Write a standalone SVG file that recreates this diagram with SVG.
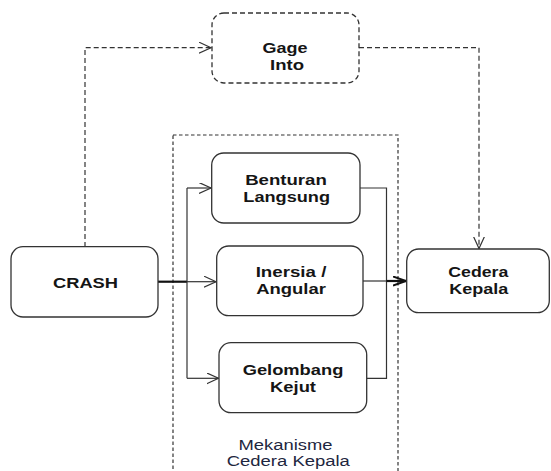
<svg xmlns="http://www.w3.org/2000/svg" width="551" height="471" viewBox="0 0 551 471">
<style>
.node{fill:#fff;stroke:#333;stroke-width:1.3}
.dnode{fill:#fff;stroke:#333;stroke-width:1.3;stroke-dasharray:5 3}
.t{font-family:"Liberation Sans",Arial,sans-serif;font-weight:bold;font-size:15px;fill:#151515;text-anchor:middle}
.lbl{font-family:"Liberation Sans",Arial,sans-serif;font-size:14px;fill:#1e2640;text-anchor:middle}
.c{fill:none;stroke:#333;stroke-width:1.2}
.cd{fill:none;stroke:#333;stroke-width:1.2;stroke-dasharray:5 3}
.thick{fill:none;stroke:#111;stroke-width:2.2}
.frame{fill:none;stroke:#333;stroke-width:1.2;stroke-dasharray:3.5 2.5}
</style>
<defs>
<marker id="open" markerWidth="14" markerHeight="12" refX="12" refY="5.5" orient="auto" markerUnits="userSpaceOnUse">
<path d="M0,0 L12,5.5 L0,11" fill="none" stroke="#333" stroke-width="1.2"/>
</marker>
<marker id="bold" markerWidth="16" markerHeight="12" refX="13" refY="5" orient="auto" markerUnits="userSpaceOnUse">
<path d="M0,0.5 L13,5 L0,9.5" fill="none" stroke="#111" stroke-width="2"/>
</marker>
</defs>
<rect x="173" y="135" width="225" height="350" class="frame"/>
<text class="lbl" x="285.5" y="450" textLength="94" lengthAdjust="spacingAndGlyphs">Mekanisme</text>
<text class="lbl" x="288.3" y="466" textLength="123" lengthAdjust="spacingAndGlyphs">Cedera Kepala</text>
<g id="connectors">
<path class="cd" d="M85,247 L85,47.7 L211,47.7" marker-end="url(#open)"/>
<path class="cd" d="M359,47.7 L479,47.7 L479,248.5" marker-end="url(#open)"/>
<path class="thick" d="M158,281.7 L187,281.7"/>
<path class="c" d="M187,281.7 L216,281.7" marker-end="url(#open)"/>
<path class="c" d="M187,188 L187,378.3"/>
<path class="c" d="M187,188 L211,188" marker-end="url(#open)"/>
<path class="c" d="M187,378.3 L218.5,378.3" marker-end="url(#open)"/>
<path class="c" d="M360,188 L386.5,188 L386.5,378.3 L366.7,378.3"/>
<path class="c" d="M363,281 L386.5,281"/>
<path class="thick" d="M386.5,281 L406,281" marker-end="url(#bold)"/>
</g>
<g id="gage">
<rect x="212" y="13" width="147" height="70" rx="12" class="dnode"/>
<text class="t" x="285" y="53.2" textLength="45" lengthAdjust="spacingAndGlyphs">Gage</text>
<text class="t" x="287" y="70.2" textLength="34" lengthAdjust="spacingAndGlyphs">Into</text>
</g>
<g id="crash">
<rect x="11" y="246.7" width="147" height="70.3" rx="12" class="node"/>
<text class="t" x="85.5" y="287.5" textLength="65" lengthAdjust="spacingAndGlyphs">CRASH</text>
</g>
<g id="benturan">
<rect x="211.7" y="153" width="148.3" height="70" rx="12" class="node"/>
<text class="t" x="286" y="184.8" textLength="81.7" lengthAdjust="spacingAndGlyphs">Benturan</text>
<text class="t" x="286.7" y="201.8" textLength="86.7" lengthAdjust="spacingAndGlyphs">Langsung</text>
</g>
<g id="inersia">
<rect x="216.7" y="246" width="146.3" height="69.7" rx="12" class="node"/>
<text class="t" x="291" y="276.7" textLength="70.7" lengthAdjust="spacingAndGlyphs">Inersia /</text>
<text class="t" x="291" y="294" textLength="69.7" lengthAdjust="spacingAndGlyphs">Angular</text>
</g>
<g id="gelombang">
<rect x="219" y="342.7" width="147.7" height="70" rx="12" class="node"/>
<text class="t" x="293" y="374.8" textLength="100.7" lengthAdjust="spacingAndGlyphs">Gelombang</text>
<text class="t" x="293" y="391.8" textLength="46" lengthAdjust="spacingAndGlyphs">Kejut</text>
</g>
<g id="cedera">
<rect x="406.7" y="249" width="142.6" height="63.7" rx="12" class="node"/>
<text class="t" x="478.3" y="277.3" textLength="60" lengthAdjust="spacingAndGlyphs">Cedera</text>
<text class="t" x="478.8" y="294.3" textLength="59" lengthAdjust="spacingAndGlyphs">Kepala</text>
</g>
</svg>
